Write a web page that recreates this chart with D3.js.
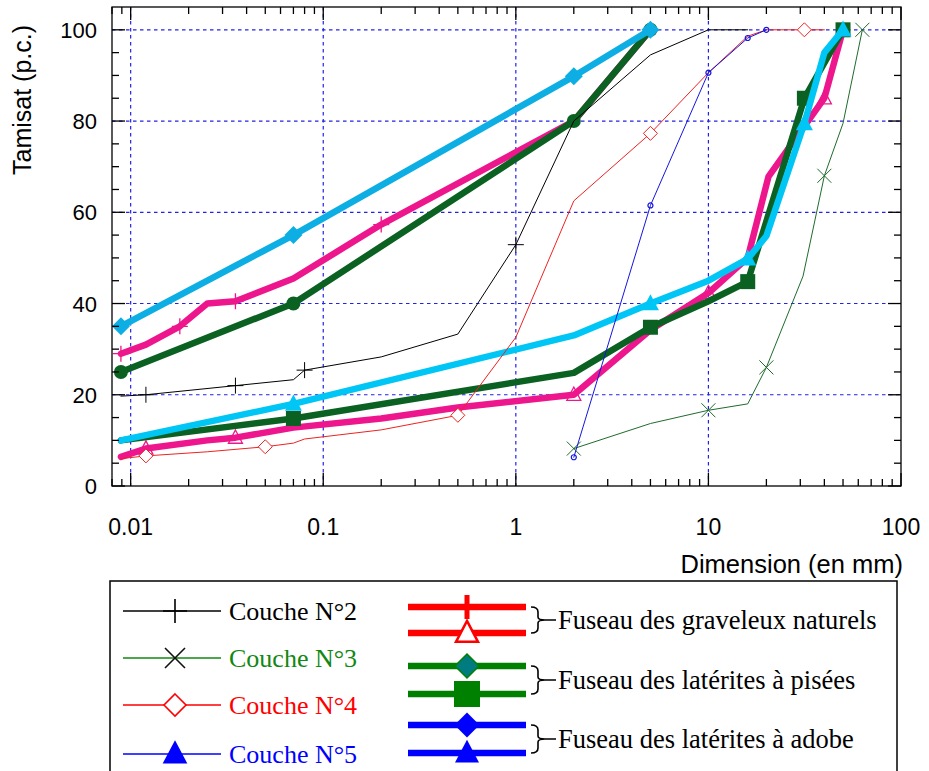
<!DOCTYPE html>
<html>
<head>
<meta charset="utf-8">
<script src="https://cdn.jsdelivr.net/npm/d3@7"></script>
<style>
  body { margin: 0; background: #fff; }
  svg { display: block; }
</style>
</head>
<body>
<div id="chart"></div>
<script>
// grain size curves : [dimension (mm), tamisat (p.c.)]
const couche2 = [[0.0089, 19.7], [0.012, 20], [0.035, 22], [0.07, 23.3], [0.08, 25.4], [0.2, 28.3],
  [0.5, 33.3], [1, 52.9], [2, 80], [5, 94.5], [10, 100], [16, 100]];
const couche2Marks = [1, 2, 4, 7];

const couche3 = [[2, 8.2], [5, 13.7], [10, 16.6], [16, 18], [20, 26], [31, 46], [40, 68], [50, 79.5], [63, 100]];
const couche3Marks = [0, 2, 4, 6, 8];

const couche4 = [[0.0089, 6], [0.012, 6.6], [0.025, 7.5], [0.05, 8.6], [0.07, 9.4], [0.08, 10.3], [0.2, 12.3],
  [0.5, 15.5], [1, 32.6], [2, 62.5], [5, 77.3], [10, 90.6], [16, 98.6], [20, 100], [31.5, 100], [40, 100]];
const couche4Marks = [1, 3, 7, 10, 14];

const couche5 = [[2, 6.3], [5, 61.5], [10, 90.6], [16, 98.2], [20, 100]];
const couche5Marks = [0, 1, 2, 3, 4];

// fuseaux (upper / lower bounds)
const gravUpper = [[0.0089, 29], [0.012, 31], [0.018, 35], [0.025, 40], [0.035, 40.5], [0.07, 45.5],
  [0.2, 57.3], [2, 80], [5, 100]];
const gravUpperMarks = [0, 2, 4, 6];
const gravLower = [[0.0089, 6.4], [0.012, 8.2], [0.025, 10], [0.035, 10.6], [0.07, 12.8], [0.2, 14.8],
  [0.5, 17.2], [2, 20], [5, 34.2], [10, 42.3], [16, 50], [20.5, 67.8], [40, 85], [50, 100]];
const gravLowerMarks = [1, 3, 7, 9, 12];

const piseUpper = [[0.0089, 25], [0.07, 40], [2, 80], [5, 100]];
const piseUpperMarks = [0, 1, 2, 3];
const piseLower = [[0.0089, 10], [0.07, 14.8], [2, 24.8], [5, 34.8], [10, 40.5], [16, 44.8], [31.5, 85], [50, 100]];
const piseLowerMarks = [1, 3, 5, 6, 7];

const adobeUpper = [[0.0089, 35], [0.07, 55], [2, 89.8], [5, 100]];
const adobeUpperMarks = [0, 1, 2, 3];
const adobeLower = [[0.0089, 10], [0.07, 18], [2, 33], [5, 40], [10, 45], [16, 49.8], [20, 54.8], [31.5, 79.5], [40, 95], [50, 100]];
const adobeLowerMarks = [1, 3, 5, 7, 9];

const yTicks = [0, 20, 40, 60, 80, 100];
const xTicks = [0.01, 0.1, 1, 10, 100];
const xTickLabels = ["0.01", "0.1", "1", "10", "100"];

const legendCouches = ["Couche N°2", "Couche N°3", "Couche N°4", "Couche N°5"];
const legendFuseaux = ["Fuseau des graveleux naturels", "Fuseau des latérites à pisées", "Fuseau des latérites à adobe"];

const width = 929, height = 771;
const plot = { left: 112, right: 901, top: 7, bottom: 486 };

const svg = d3.select("#chart").append("svg")
  .attr("width", width)
  .attr("height", height)
  .style("font-family", "'Liberation Sans', Arial, sans-serif");

svg.append("rect").attr("width", width).attr("height", height).attr("fill", "#fff");

const xScale = d3.scaleLog().domain([0.008, 100]).range([plot.left, plot.right]);
const yScale = d3.scaleLinear().domain([0, 105]).range([plot.bottom, plot.top]);

// marker shapes
function markerPath(type, s) {
  switch (type) {
    case "plus": return `M${-s},0H${s}M0,${-s}V${s}`;
    case "cross": return `M${-s},${-s}L${s},${s}M${-s},${s}L${s},${-s}`;
    case "diamond": return `M0,${-s}L${s},0L0,${s}L${-s},0Z`;
    case "triangle": return `M0,${-s * 1.1}L${s},${s * 0.8}L${-s},${s * 0.8}Z`;
    case "square": return `M${-s},${-s}H${s}V${s}H${-s}Z`;
    case "circle": return d3.symbol(d3.symbolCircle, Math.PI * s * s)();
  }
}

// grid
const grid = svg.append("g");
grid.selectAll("line.v").data(xTicks.filter(d => d < 100)).join("line")
  .attr("x1", d => xScale(d)).attr("x2", d => xScale(d))
  .attr("y1", plot.top).attr("y2", plot.bottom)
  .attr("stroke", "#2222e8").attr("stroke-width", 1.2).attr("stroke-dasharray", "3.5,3.5");
grid.selectAll("line.h").data(yTicks.filter(d => d > 0)).join("line")
  .attr("x1", plot.left).attr("x2", plot.right)
  .attr("y1", d => yScale(d)).attr("y2", d => yScale(d))
  .attr("stroke", "#2222e8").attr("stroke-width", 1.2).attr("stroke-dasharray", "3.5,3.5");

const line = d3.line().x(d => xScale(d[0])).y(d => yScale(d[1]));

const series = [
  { data: gravLower, marks: gravLowerMarks, color: "#EE168C", w: 6.5, marker: "triangle", size: 7, fill: "none", mw: 1.3 },
  { data: gravUpper, marks: gravUpperMarks, color: "#EE168C", w: 6.5, marker: "plus", size: 8, fill: "none", mw: 1.3 },
  { data: piseUpper, marks: piseUpperMarks, color: "#0B6121", w: 6.5, marker: "circle", size: 7, fill: "#0B6121", mw: 0 },
  { data: piseLower, marks: piseLowerMarks, color: "#0B6121", w: 6.5, marker: "square", size: 7.5, fill: "#0B6121", mw: 0 },
  { data: adobeUpper, marks: adobeUpperMarks, color: "#0DAEE3", w: 6.5, marker: "diamond", size: 9, fill: "#0DAEE3", mw: 0 },
  { data: adobeLower, marks: adobeLowerMarks, color: "#00C6F6", w: 6.5, marker: "triangle", size: 8.5, fill: "#00C6F6", mw: 0 },
  { data: couche2, marks: couche2Marks, color: "#000", w: 1, marker: "plus", size: 8, fill: "none", mw: 1 },
  { data: couche3, marks: couche3Marks, color: "#1F6B2C", w: 1, marker: "cross", size: 7, fill: "none", mw: 1 },
  { data: couche4, marks: couche4Marks, color: "#EE2222", w: 1, marker: "diamond", size: 7, fill: "#fff", mw: 1 },
  { data: couche5, marks: couche5Marks, color: "#1515E0", w: 1, marker: "circle", size: 2.5, fill: "none", mw: 1.2 }
];

const gSeries = svg.append("g");
series.forEach(s => {
  const g = gSeries.append("g");
  g.append("path").datum(s.data)
    .attr("d", line)
    .attr("fill", "none")
    .attr("stroke", s.color)
    .attr("stroke-width", s.w)
    .attr("stroke-linejoin", "round")
    .attr("stroke-linecap", "round");
  g.selectAll("path.mk").data(s.marks.map(i => s.data[i])).join("path")
    .attr("class", "mk")
    .attr("transform", d => `translate(${xScale(d[0])},${yScale(d[1])})`)
    .attr("d", markerPath(s.marker, s.size))
    .attr("fill", s.fill)
    .attr("stroke", s.mw > 0 ? s.color : "none")
    .attr("stroke-width", s.mw);
});

// frame and ticks (inward, on all four sides)
const axes = svg.append("g").attr("stroke", "#000").attr("stroke-width", 1.3);
axes.append("rect")
  .attr("x", plot.left).attr("y", plot.top)
  .attr("width", plot.right - plot.left).attr("height", plot.bottom - plot.top)
  .attr("fill", "none");

const yMinor = d3.range(0, 101, 5);
[plot.left, plot.right].forEach((x0, k) => {
  const dir = k === 0 ? 1 : -1;
  axes.append("g").selectAll("line").data(yMinor).join("line")
    .attr("x1", x0).attr("x2", d => x0 + dir * (d % 20 === 0 ? 13 : 7))
    .attr("y1", d => yScale(d)).attr("y2", d => yScale(d));
});

const xMinor = [];
[0.001, 0.01, 0.1, 1, 10].forEach(p => {
  for (let k = 1; k < 10; k++) {
    const v = +(p * k).toPrecision(3);
    if (v >= 0.008 && v <= 100) xMinor.push(v);
  }
});
xMinor.push(100);
[plot.top, plot.bottom].forEach((y0, k) => {
  const dir = k === 0 ? 1 : -1;
  axes.append("g").selectAll("line").data(xMinor).join("line")
    .attr("x1", d => xScale(d)).attr("x2", d => xScale(d))
    .attr("y1", y0).attr("y2", d => y0 + dir * (xTicks.includes(d) ? 13 : 7));
});

// tick labels
svg.append("g").selectAll("text").data(yTicks).join("text")
  .attr("x", 97).attr("y", d => yScale(d) + 8)
  .attr("text-anchor", "end")
  .style("font-size", "22px")
  .text(d => d);

svg.append("g").selectAll("text").data(xTicks).join("text")
  .attr("x", d => xScale(d)).attr("y", 535)
  .attr("text-anchor", "middle")
  .style("font-size", "23px")
  .text((d, i) => xTickLabels[i]);

svg.append("text")
  .attr("x", 903).attr("y", 573)
  .attr("text-anchor", "end")
  .style("font-size", "25.5px")
  .text("Dimension (en mm)");

svg.append("text")
  .attr("transform", "translate(31,100) rotate(-90)")
  .attr("text-anchor", "middle")
  .style("font-size", "25px")
  .text("Tamisat (p.c.)");

// legend
const legend = svg.append("g").style("font-family", "'Liberation Serif', 'Times New Roman', serif");
legend.append("rect")
  .attr("x", 110).attr("y", 581).attr("width", 787).attr("height", 200)
  .attr("fill", "#fff").attr("stroke", "#000").attr("stroke-width", 1.5);

const couchesStyle = [
  { color: "#000", text: "#000", marker: "plus", size: 12, fill: "none", mcolor: "#000" },
  { color: "#118811", text: "#118811", marker: "cross", size: 10, fill: "none", mcolor: "#111" },
  { color: "#FF0000", text: "#FF0000", marker: "diamond", size: 11, fill: "#fff", mcolor: "#FF0000" },
  { color: "#0000FF", text: "#0000FF", marker: "triangle", size: 11, fill: "#0000FF", mcolor: "#0000FF" }
];
const rowY = [611, 658, 705, 754];
legendCouches.forEach((name, i) => {
  const st = couchesStyle[i];
  legend.append("line")
    .attr("x1", 123).attr("x2", 221).attr("y1", rowY[i]).attr("y2", rowY[i])
    .attr("stroke", st.color).attr("stroke-width", 1.5);
  legend.append("path")
    .attr("transform", `translate(175,${rowY[i]})`)
    .attr("d", markerPath(st.marker, st.size))
    .attr("fill", st.fill).attr("stroke", st.mcolor).attr("stroke-width", 1.6);
  legend.append("text")
    .attr("x", 229).attr("y", rowY[i] + 9)
    .attr("fill", st.text)
    .style("font-size", "26px")
    .text(name);
});

const fuseauStyle = [
  { color: "#FF0000", top: { marker: "plus", size: 12, fill: "none", stroke: "#FF0000", sw: 5 },
    bot: { marker: "triangle", size: 11, fill: "#fff", stroke: "#FF0000", sw: 2.5 } },
  { color: "#008000", top: { marker: "diamond", size: 12, fill: "#007B7F", stroke: "#008000", sw: 1.5 },
    bot: { marker: "square", size: 13, fill: "#008000", stroke: "none", sw: 0 } },
  { color: "#0000FF", top: { marker: "diamond", size: 12.5, fill: "#0000FF", stroke: "none", sw: 0 },
    bot: { marker: "triangle", size: 12, fill: "#0000FF", stroke: "none", sw: 0 } }
];
const groupY = [[607, 633], [666, 694], [725, 753]];
legendFuseaux.forEach((name, i) => {
  const st = fuseauStyle[i];
  const [y1, y2] = groupY[i];
  [y1, y2].forEach((y, j) => {
    legend.append("line")
      .attr("x1", 408).attr("x2", 526).attr("y1", y).attr("y2", y)
      .attr("stroke", st.color).attr("stroke-width", 6.5);
    const m = j === 0 ? st.top : st.bot;
    legend.append("path")
      .attr("transform", `translate(467,${y})`)
      .attr("d", markerPath(m.marker, m.size))
      .attr("fill", m.fill).attr("stroke", m.stroke).attr("stroke-width", m.sw);
  });
  const mid = (y1 + y2) / 2;
  legend.append("path")
    .attr("d", `M531,${y1}Q538,${y1} 538,${y1 + 5}V${mid - 3}Q538,${mid} 545,${mid}H556` +
      `M545,${mid}Q538,${mid} 538,${mid + 3}V${y2 - 5}Q538,${y2} 531,${y2}`)
    .attr("fill", "none").attr("stroke", "#000").attr("stroke-width", 1.6);
  legend.append("text")
    .attr("x", 558).attr("y", mid + 9)
    .style("font-size", "26.5px")
    .text(name);
});
</script>
</body>
</html>
